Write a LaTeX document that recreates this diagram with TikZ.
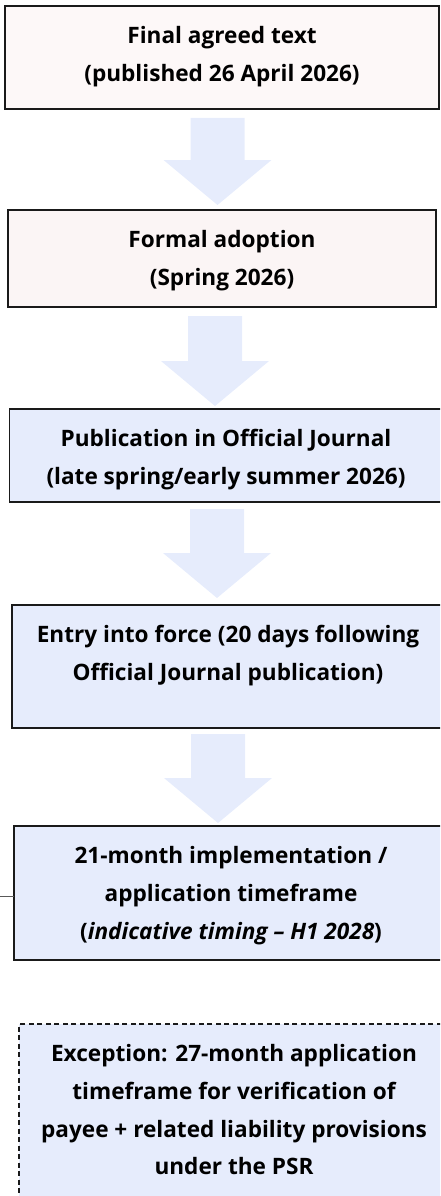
\documentclass[tikz,border=0pt]{standalone}
\usepackage{fontspec}
\setmainfont{Open Sans}
\definecolor{pinkA}{HTML}{FDF8F8}
\definecolor{pinkB}{HTML}{FBF5F5}
\definecolor{blueF}{HTML}{E6ECFC}
\definecolor{edge}{HTML}{1A1A1A}
\newcommand{\boxtext}[3]{\parbox[c][#2][t]{#1}{\centering\fontsize{22.6}{37.5}\selectfont\bfseries\baselineskip=37.8pt\lineskiplimit=-20pt\rule{0pt}{37.5pt}#3\par}}
\newcommand{\blockarrow}[3]{%
  \fill[blueF] (#1-27,#2) -- (#1+27,#2) -- (#1+27,#3-45) -- (#1+54,#3-45) -- (#1,#3) -- (#1-54,#3-45) -- (#1-27,#3-45) -- cycle;}
\begin{document}
\begin{tikzpicture}[x=1pt,y=-1pt,
  stage/.style={draw=edge, line width=1.6pt, inner sep=0pt, outer sep=0pt, anchor=north west},
  dashstage/.style={stage, dash pattern=on 5pt off 3.5pt, line width=1.6pt}]
\useasboundingbox (0,0) rectangle (440,1196);
\clip (0,0) rectangle (440,1196);
\node[stage, fill=pinkA] (b1) at (5,6) {\boxtext{434pt}{103pt}{Final agreed text\\(published 26 April 2026)}};
\node[stage, fill=pinkB] (b2) at (8,210) {\boxtext{428pt}{97pt}{Formal adoption\\(Spring 2026)}};
\node[stage, fill=blueF] (b3) at (9.5,409) {\boxtext{433pt}{93pt}{Publication in Official Journal\\(late spring/early summer 2026)}};
\node[stage, fill=blueF] (b4) at (12,605) {\boxtext{432pt}{123pt}{Entry into force (20 days following\\Official Journal publication)}};
\node[stage, fill=blueF] (b5) at (14,826) {\boxtext{434pt}{134pt}{21-month implementation /\\application timeframe\\(\textit{indicative timing – H1 2028})}};
\node[dashstage, fill=blueF] (b6) at (19,1024) {\boxtext{430pt}{200pt}{Exception: 27-month application\\timeframe for verification of\\payee + related liability provisions\\under the PSR}};
\blockarrow{217.5}{118}{205}
\blockarrow{215}{316}{406}
\blockarrow{217}{509}{598}
\blockarrow{218}{734}{823}
\coordinate (stub) at (0,896);
\draw[draw=black!65, line width=0.8pt] (stub) -- (stub -| b5.west);
\end{tikzpicture}
\end{document}
